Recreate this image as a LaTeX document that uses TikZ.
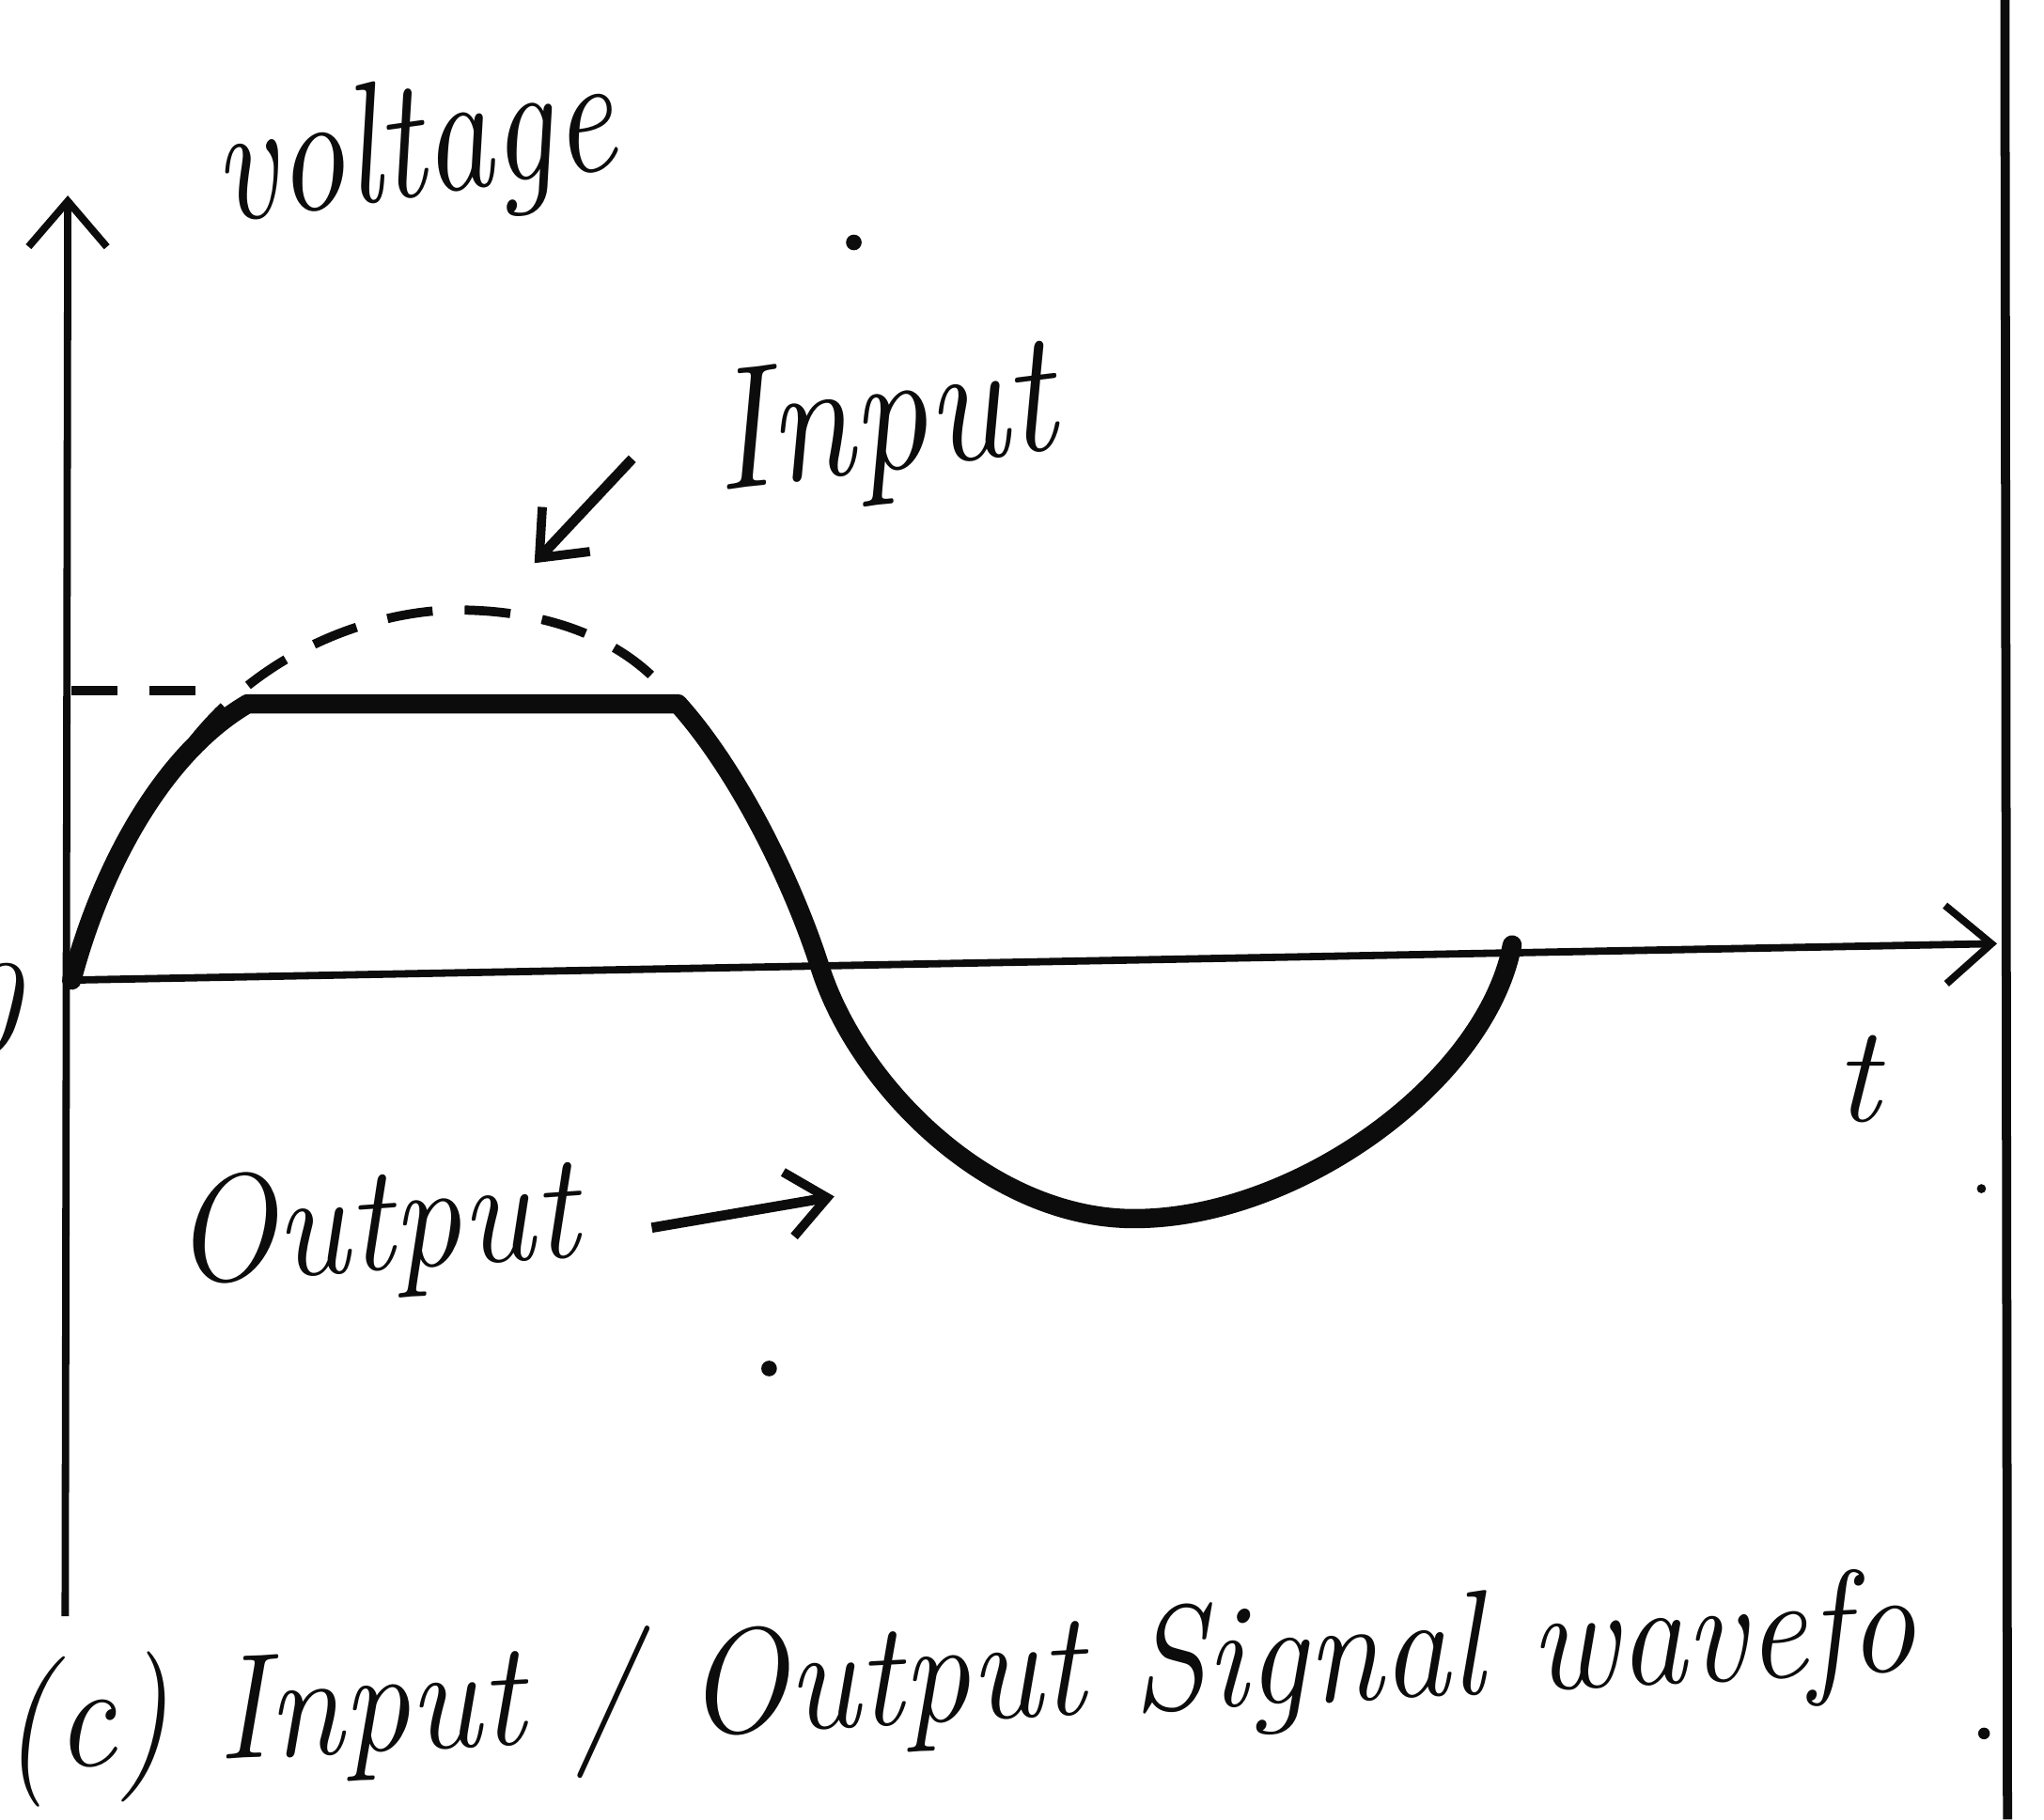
\documentclass[tikz,border=0pt]{standalone}
\usepackage{tikz}
\usetikzlibrary{arrows.meta,calc}
\definecolor{InkBlack}{RGB}{12,12,12}
\tikzset{
  axis/.style={-{Straight Barb[length=3.5mm,width=6mm,line width=1.6pt]},line width=1.6pt,draw=InkBlack},
  pointer/.style={-{Straight Barb[length=3mm,width=5mm,line width=2pt]},line width=2.2pt,draw=InkBlack},
  outwave/.style={line width=4.2pt,draw=InkBlack,line cap=round,line join=round},
  inwave/.style={line width=2pt,draw=InkBlack,dash pattern=on 10pt off 7pt},
  hand/.style={text=InkBlack,inner sep=0pt,font=\itshape\fontsize{30}{36}\selectfont},
  speck/.style={fill=InkBlack,circle,inner sep=0pt,minimum size=1.2mm}
}

\begin{document}
\begin{tikzpicture}[x=0.01cm,y=-0.01cm]
  \useasboundingbox (0,0) rectangle (1568,1396);
  % axes and frame
  \coordinate (O) at (55,752);
  \coordinate (ytop) at (52,150);
  \coordinate (ybot) at (50,1240);
  \coordinate (xend) at (1532,724);
  \coordinate (ftop) at (1538,0);
  \coordinate (fbot) at (1540,1396);
  \draw[axis] (ybot) -- (ytop);
  \draw[axis] (O) -- (xend);
  \draw[line width=2pt,draw=InkBlack] (ftop) -- (fbot);

  % clipped output and input peak
  \draw[outwave] (55,752) .. controls (78,665) and (125,578) .. (190,540)
    -- (520,540)
    .. controls (565,590) and (608,675) .. (630,745)
    .. controls (660,835) and (760,935) .. (870,935)
    .. controls (995,935) and (1140,830) .. (1160,725);
  \draw[inwave] (148,568) .. controls (210,490) and (300,468) .. (350,468)
    .. controls (420,468) and (480,490) .. (515,535);
  \draw[inwave] (55,530) -- (165,530);

  % labels
  \node[hand,rotate=8,yscale=1.25] (volt) at (318,118) {voltage};
  \node[hand,rotate=7,yscale=1.15,font=\itshape\fontsize{33}{38}\selectfont] (inlbl) at (678,328) {Input};
  \node[hand,rotate=4,yscale=1.1] (outlbl) at (288,945) {Output};
  \node[hand] (tlbl) at (1425,828) {t};
  \node[hand] (zero) at (-12,775) {0};
  \node[hand,rotate=3,yscale=1.1,font=\itshape\fontsize{29.5}{35}\selectfont] (cap) at (735,1292) {(c) Input / Output Signal wavefo};

  \coordinate (inA) at (485,352);
  \coordinate (inB) at (410,432);
  \coordinate (outA) at (500,942);
  \coordinate (outB) at (640,918);
  \draw[pointer] (inA) -- (inB);
  \draw[pointer] (outA) -- (outB);

  \node[speck] (s1) at (655,186) {};
  \node[speck] (s2) at (590,1050) {};
  \node[speck,minimum size=0.7mm] (s3) at (1520,912) {};
  \node[speck,minimum size=0.9mm] (s4) at (1522,1330) {};
\end{tikzpicture}
\end{document}
